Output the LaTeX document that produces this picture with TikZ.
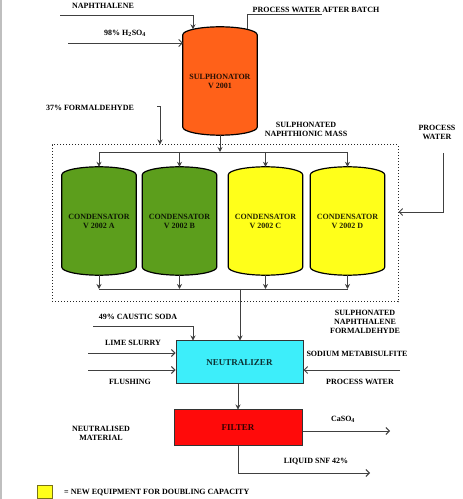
\documentclass[tikz,border=0pt]{standalone}
\usepackage{fontspec}
\setmainfont{Liberation Serif}
\usepackage[svgnames]{xcolor}
\usetikzlibrary{arrows.meta,backgrounds}

\definecolor{sulorange}{HTML}{FF6119}
\definecolor{condgreen}{HTML}{5C9E1C}
\definecolor{newyellow}{HTML}{FFFF1A}
\definecolor{neutcyan}{HTML}{3DEEFA}
\definecolor{filterred}{HTML}{FF0A0A}

\tikzset{
  lbl/.style={font=\fontsize{8}{9}\selectfont\bfseries, align=center, inner sep=0pt},
  vessel/.style={lbl, minimum width=74pt, minimum height=108pt, text=black!85!#1},
  unit/.style={lbl, font=\fontsize{9}{10}\selectfont\bfseries, draw=black!80, line width=1pt, fill=#1, text=black!80!#1},
  dotbox/.style={draw=black!85, line width=1pt, dash pattern=on 1.2pt off 1.8pt},
  stream/.style={draw=black!75, line width=0.9pt},
  feed/.style={stream, -{Straight Barb[length=3.5pt,width=7pt]}},
  drop/.style={stream, -{Stealth[length=5pt,width=5pt]}},
}

\begin{document}
\begin{tikzpicture}[x=1pt,y=1pt]
\useasboundingbox (0,0) rectangle (463,499);
\draw[gray!50, line width=2pt] (1,0) -- (1,499);

% vessels and units
\node[dotbox, minimum width=346pt, minimum height=157pt] (condbox) at (225,275.5) {};
\node[vessel=sulorange] (sul) at (220,418) {SULPHONATOR\\V 2001};
\foreach \v/\x/\c/\t in {condA/99/condgreen/A, condB/179.5/condgreen/B, condC/265.5/newyellow/C, condD/347.5/newyellow/D}
  \node[vessel=\c] (\v) at (\x,278) {CONDENSATOR\\V 2002 \t};
\node[unit=neutcyan, minimum width=127pt, minimum height=43pt] (neut) at (239.5,136.5) {NEUTRALIZER};
\node[unit=filterred, minimum width=128pt, minimum height=36pt] (filter) at (238,71) {FILTER};

\begin{scope}[on background layer]
\foreach \v/\c in {sul/sulorange, condA/condgreen, condB/condgreen, condC/newyellow, condD/newyellow}
  \filldraw[fill=\c, line width=1.2pt]
    ([yshift=8pt]\v.south west) -- ([yshift=-8pt]\v.north west)
    .. controls ([yshift=-3.6pt]\v.north west) and ([xshift=-20.4pt]\v.north) .. (\v.north)
    .. controls ([xshift=20.4pt]\v.north) and ([yshift=-3.6pt]\v.north east) .. ([yshift=-8pt]\v.north east)
    -- ([yshift=8pt]\v.south east)
    .. controls ([yshift=3.6pt]\v.south east) and ([xshift=20.4pt]\v.south) .. (\v.south)
    .. controls ([xshift=-20.4pt]\v.south) and ([yshift=3.6pt]\v.south west) .. cycle;
\end{scope}

% stream labels
\foreach \n/\p/\t in
{naph/{103,493}/NAPHTHALENE,
acid/{125,466}/98\% H\textsubscript{2}SO\textsubscript{4},
pwbatch/{316,489}/PROCESS WATER AFTER BATCH,
form/{90,391}/37\% FORMALDEHYDE,
sulmass/{306,370}/SULPHONATED\\NAPHTHIONIC MASS,
pwcond/{437,367}/PROCESS\\WATER,
snfmass/{365,177.5}/SULPHONATED\\NAPHTHALENE\\FORMALDEHYDE,
caustic/{138,182}/49\% CAUSTIC SODA,
lime/{133,156}/LIME SLURRY,
flush/{130,117}/FLUSHING,
meta/{357,145}/SODIUM METABISULFITE,
pwneut/{360,117}/PROCESS WATER,
neutmat/{101,66}/NEUTRALISED\\MATERIAL,
caso4/{343,80}/CaSO\textsubscript{4},
snf/{316,38}/LIQUID SNF 42\%}
  \node[lbl] (\n) at (\p) {\t};

% feeds to the sulphonator
\coordinate (naphin) at (60,484);
\coordinate (acidin) at (68,456);
\coordinate (pwout) at (322,485);
\draw[drop] (naphin) -| ([xshift=-27pt,yshift=-2.5pt]sul.north);
\draw[feed] (acidin) -- (acidin -| sul.west);
\draw[stream] ([xshift=27pt,yshift=-2.5pt]sul.north) |- (pwout);

% distribution and collection
\coordinate (dist) at (220,347);
\coordinate (coll) at (240,210);
\draw[drop] (sul.south) -- (dist);
\draw[stream] (condA.north |- dist) -- (condD.north |- dist);
\draw[stream] (condA.south |- coll) -- (condD.south |- coll);
\foreach \v in {condA,condB,condC,condD}{
  \draw[drop] (\v.north |- dist) -- (\v.north);
  \draw[drop] (\v.south) -- (\v.south |- coll);
}
\coordinate (formin) at (157,393);
\coordinate (pwin) at (443,346);
\draw[drop] (formin) -| ([xshift=-65pt]condbox.north);
\draw[feed] (pwin) |- ([yshift=11.5pt]condbox.east);

% neutralizer and filter
\coordinate (causticin) at (93,173);
\coordinate (limein) at (88,146);
\coordinate (flushin) at (88,129);
\coordinate (metain) at (400,129);
\draw[drop] (coll) -- (coll |- neut.north);
\draw[drop] (causticin) -| ([xshift=-46.5pt]neut.north);
\draw[feed] (limein) -- (limein -| neut.west);
\draw[feed] (flushin) -- (flushin -| neut.west);
\draw[feed] (metain) -- (metain -| neut.east);
\draw[drop] (neut.south -| filter.north) -- (filter.north);
\coordinate (caso4out) at (390,68);
\coordinate (snfout) at (370,26);
\draw[feed] (filter.east |- caso4out) -- (caso4out);
\draw[feed] (filter.south) |- (snfout);

% legend
\node[draw=olive!80!black, fill=newyellow, minimum width=15pt, minimum height=13pt, inner sep=0pt] (legbox) at (44.5,7.5) {};
\node[lbl, anchor=west] (legtext) at (64,7) {= NEW EQUIPMENT FOR DOUBLING CAPACITY};
\end{tikzpicture}
\end{document}
